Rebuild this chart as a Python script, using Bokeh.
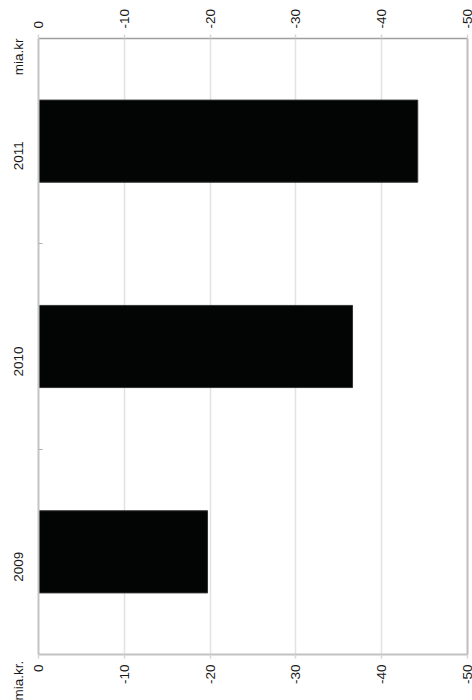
import math
from bokeh.plotting import figure
from bokeh.models import Range1d, FixedTicker, LinearAxis
from bokeh.embed import file_html
from bokeh.resources import INLINE

years = ["2011", "2010", "2009"]
values = [-44.2, -36.6, -19.7]
x_ticks = [0, -10, -20, -30, -40, -50]
unit_top = "mia.kr"
unit_bottom = "mia.kr."

n = len(years)
ypos = [n - i - 0.5 for i in range(n)]

FONT = "Liberation Sans"
FS = "13.5px"
TXT = "#1a1a1a"
NB = "\u00a0"

p = figure(width=472, height=700, output_backend="svg", toolbar_location=None,
           x_range=Range1d(0, -50), y_range=Range1d(0, n),
           x_axis_location=None, y_axis_location=None,
           min_border_left=38, min_border_right=5, min_border_top=38, min_border_bottom=46)
p.outline_line_color = None
p.background_fill_color = "white"

p.hbar(y=ypos, right=values, left=0, height=0.4, fill_color="#030404",
       line_color="#333333", line_width=1)

def style_x(ax, line_color, lw):
    ax.ticker = FixedTicker(ticks=x_ticks)
    ax.major_label_overrides = {t: str(t) for t in x_ticks}
    ax.major_label_orientation = math.pi / 2
    ax.major_label_text_font = FONT
    ax.major_label_text_font_size = FS
    ax.major_label_text_color = TXT
    ax.major_tick_out = 4
    ax.major_tick_in = 0
    ax.major_tick_line_color = "#d6d6d6"
    ax.major_tick_line_width = 1.5
    ax.minor_tick_line_color = None
    ax.axis_line_color = line_color
    ax.axis_line_width = lw
    ax.major_label_standoff = 6

top = LinearAxis()
style_x(top, "#9e9e9e", 1.5)
p.add_layout(top, "above")
bot = LinearAxis()
style_x(bot, "#c2c2c2", 2)
p.add_layout(bot, "below")

# category axis; the unit labels sit at the two ends of the same column
left = LinearAxis()
left.ticker = FixedTicker(ticks=[0] + ypos + [n], minor_ticks=list(range(1, n)))
overrides = {ypos[i]: years[i] for i in range(n)}
overrides[n] = NB * 10 + unit_top
overrides[0] = unit_bottom + NB * 3
left.major_label_overrides = overrides
left.major_label_orientation = math.pi / 2
left.major_label_text_font = FONT
left.major_label_text_font_size = FS
left.major_label_text_color = TXT
left.major_tick_line_color = None
left.major_tick_in = 0
left.major_tick_out = 0
left.minor_tick_in = 4
left.minor_tick_out = 0
left.minor_tick_line_color = "#b0b0b0"
left.minor_tick_line_width = 1
left.axis_line_color = "#c4c4c4"
left.axis_line_width = 2
left.major_label_standoff = 20
p.add_layout(left, "left")

right = LinearAxis()
right.ticker = FixedTicker(ticks=[])
right.major_label_text_font_size = "0px"
right.major_tick_line_color = None
right.minor_tick_line_color = None
right.axis_line_color = "#bdbdbd"
right.axis_line_width = 2
p.add_layout(right, "right")

p.xgrid.ticker = FixedTicker(ticks=x_ticks[1:-1])
p.xgrid.grid_line_color = "#e2e2e2"
p.xgrid.grid_line_width = 1.5
p.ygrid.grid_line_color = None

open("out.html", "w").write(file_html(p, INLINE))
